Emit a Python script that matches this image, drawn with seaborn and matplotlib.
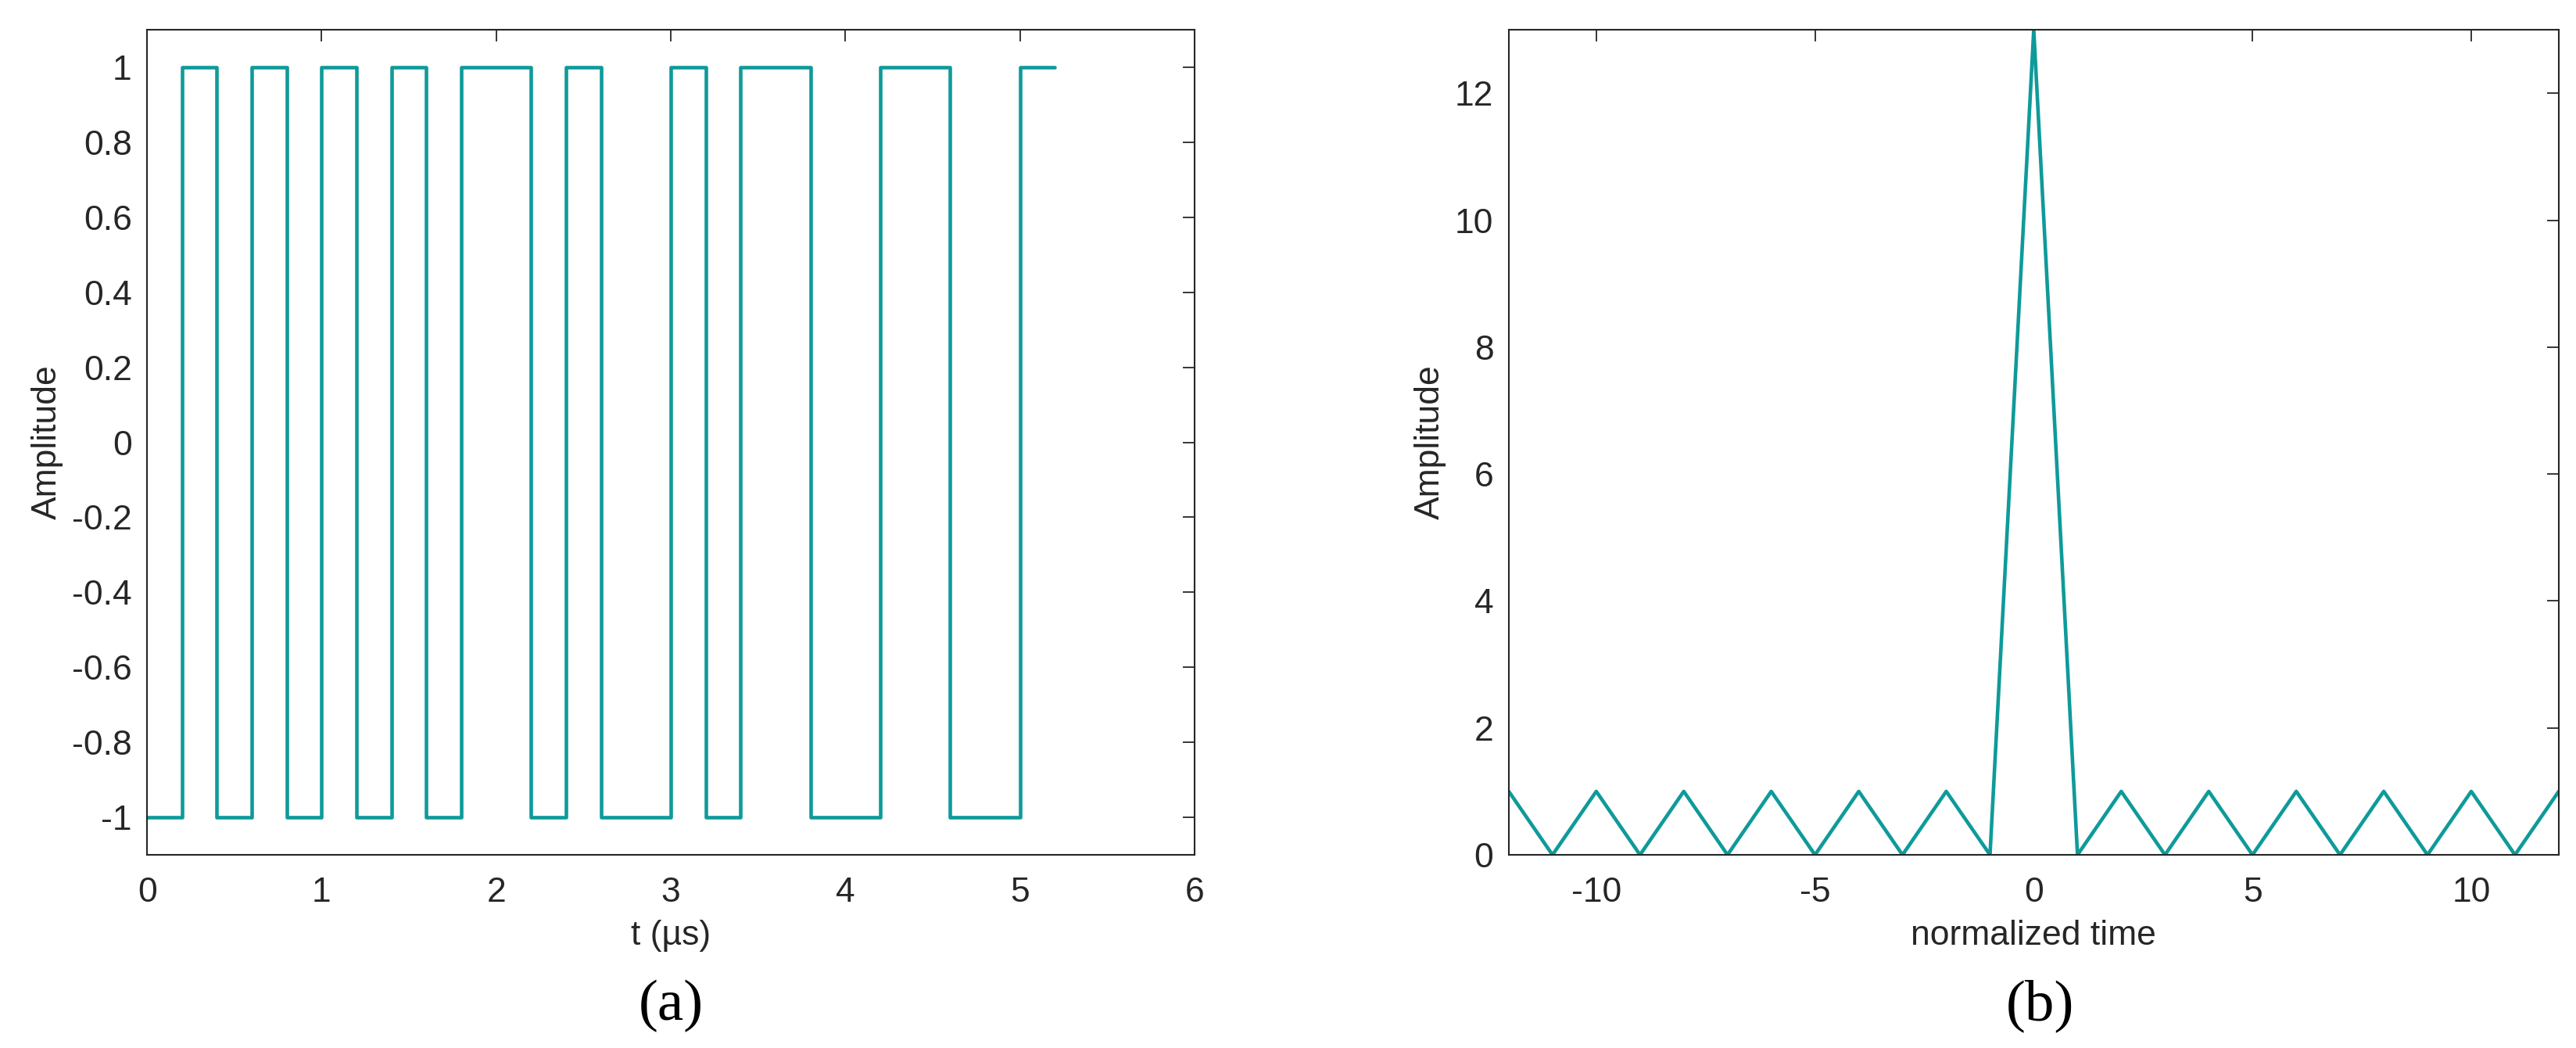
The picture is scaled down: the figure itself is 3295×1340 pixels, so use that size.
import numpy as np
import pandas as pd
import matplotlib
matplotlib.use("Agg")
import matplotlib.pyplot as plt
import seaborn as sns

# chip waveform (0.2 us per chip), value of each chip from t=0
chip_width = 0.2
chips = [-1, 1, -1, 1, -1, 1, -1, 1, -1, 1, 1, -1, 1,
         -1, -1, 1, -1, 1, 1, -1, -1, 1, 1, -1, -1, 1]

# autocorrelation vs normalized lag
lags = list(range(-12, 13))
acf = [1, 0, 1, 0, 1, 0, 1, 0, 1, 0, 1, 0, 13,
       0, 1, 0, 1, 0, 1, 0, 1, 0, 1, 0, 1]

left_yticks = [-1, -0.8, -0.6, -0.4, -0.2, 0, 0.2, 0.4, 0.6, 0.8, 1]
left_xticks = [0, 1, 2, 3, 4, 5, 6]
right_yticks = [0, 2, 4, 6, 8, 10, 12]
right_xticks = [-10, -5, 0, 5, 10]

sns.set_theme(style="white")
plt.rcParams["font.family"] = ["Liberation Sans", "DejaVu Sans"]
plt.rcParams["axes.unicode_minus"] = False

line_col = "#0f9a9a"
dark = "#262626"

t = np.arange(len(chips) + 1) * chip_width
wave = pd.DataFrame({"t": t, "amp": chips + chips[-1:]})
corr = pd.DataFrame({"lag": lags, "amp": acf})

fig = plt.figure(figsize=(32.95, 13.4), dpi=100)
ax1 = fig.add_axes([0.0571, 0.1843, 0.4066, 0.7873])
ax2 = fig.add_axes([0.5857, 0.1843, 0.4076, 0.7873])

sns.lineplot(data=wave, x="t", y="amp", ax=ax1, color=line_col, linewidth=3.3,
             drawstyle="steps-post", sort=False, estimator=None)
sns.lineplot(data=corr, x="lag", y="amp", ax=ax2, color=line_col, linewidth=3.3,
             sort=False, estimator=None)

ax1.set_xlim(0, 6)
ax1.set_ylim(-1.1, 1.1)
ax1.set_xticks(left_xticks)
ax1.set_yticks(left_yticks)
ax1.set_yticklabels(["%g" % v for v in left_yticks])
ax1.set_xlabel("t (µs)", fontsize=32, color=dark, labelpad=10)

ax2.set_xlim(-12, 12)
ax2.set_ylim(0, 13)
ax2.set_xticks(right_xticks)
ax2.set_yticks(right_yticks)
ax2.set_xlabel("normalized time", fontsize=32, color=dark, labelpad=10)

for ax in (ax1, ax2):
    ax.set_ylabel("Amplitude", fontsize=32, color=dark, labelpad=8)
    ax.tick_params(direction="in", length=11, width=1.3, colors=dark,
                   labelsize=32, top=True, right=True)
    ax.tick_params(axis="x", pad=20)
    ax.tick_params(axis="y", pad=14)
    for s in ax.spines.values():
        s.set_visible(True)
        s.set_color(dark)
        s.set_linewidth(1.5)

fig.text(0.2604, 0.040, "(a)", ha="center", va="center", fontsize=54,
         family="Liberation Serif", color="black")
fig.text(0.7920, 0.040, "(b)", ha="center", va="center", fontsize=54,
         family="Liberation Serif", color="black")

fig.savefig("out.png", dpi=100)
